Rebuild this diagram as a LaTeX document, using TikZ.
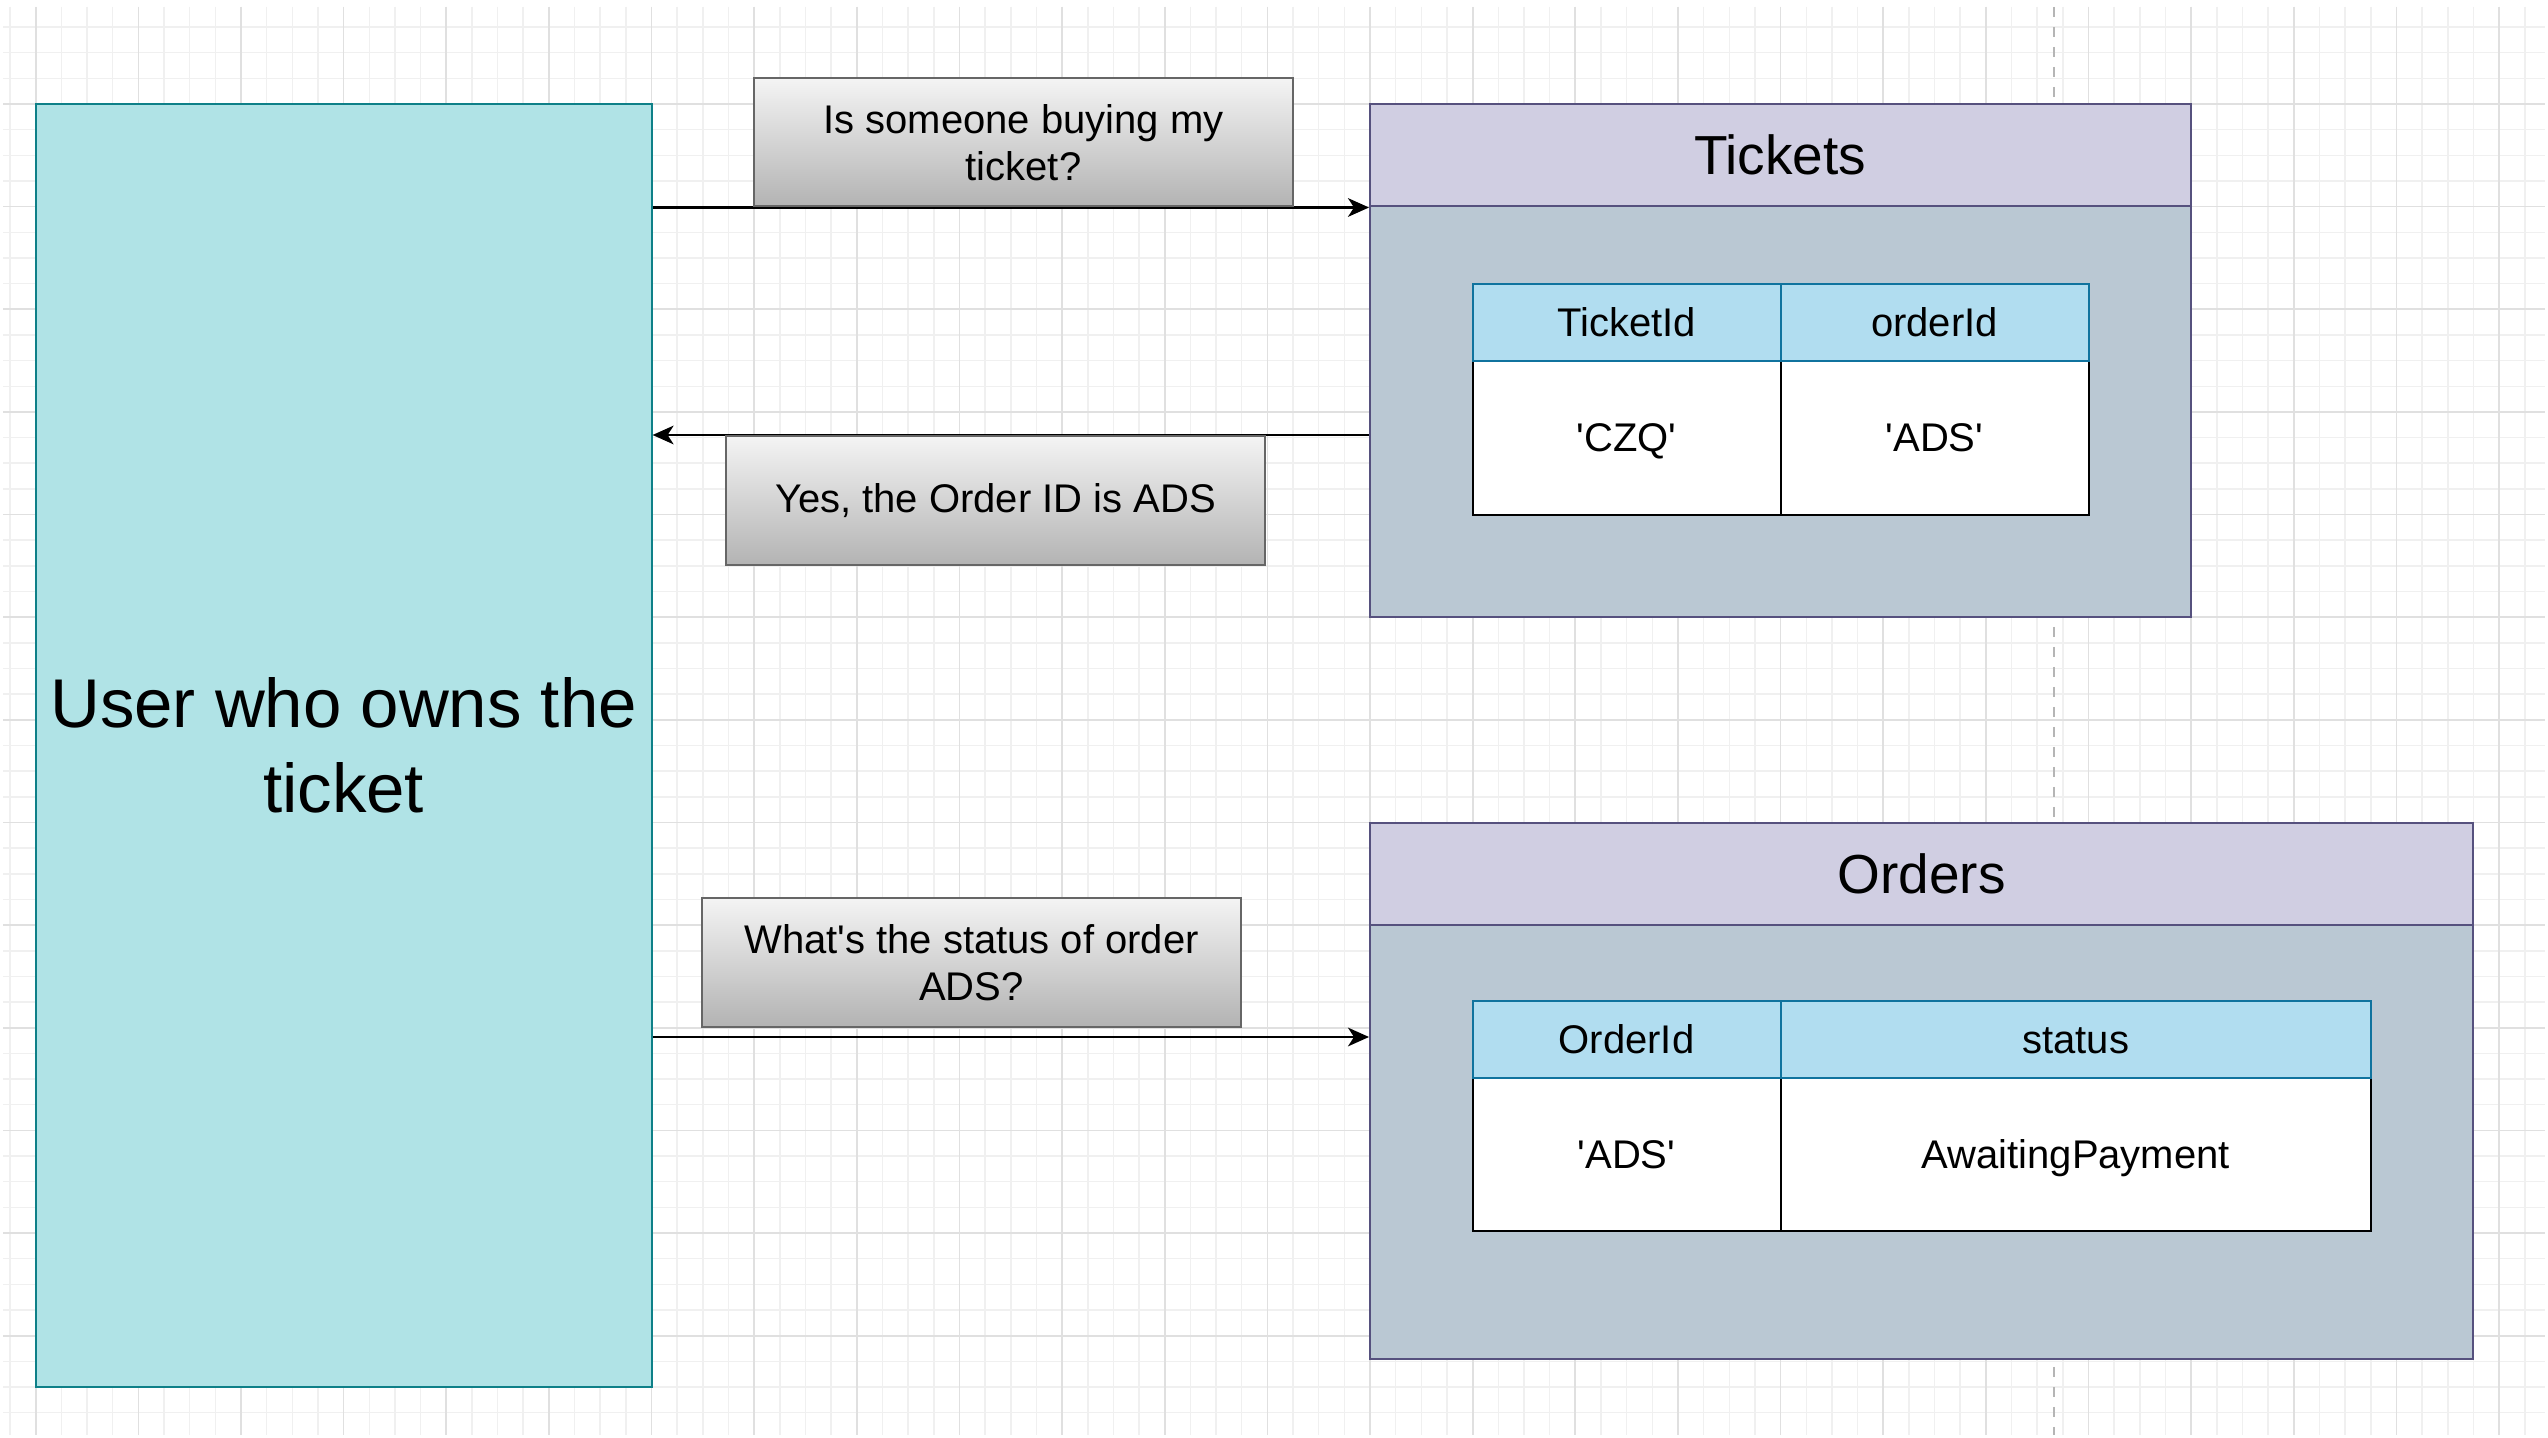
\documentclass[tikz,border=0pt]{standalone}
\usepackage{fontspec}
\setmainfont{Liberation Sans}[Ligatures=TeXOff]
\usetikzlibrary{arrows.meta}
\definecolor{gminor}{HTML}{F0F0F0}
\definecolor{gmajor}{HTML}{E0E0E0}
\definecolor{userfill}{HTML}{B0E3E6}
\definecolor{userstroke}{HTML}{0E8088}
\definecolor{qtop}{HTML}{F4F4F4}
\definecolor{qbot}{HTML}{B3B3B3}
\definecolor{qstroke}{HTML}{666666}
\definecolor{lanehead}{HTML}{D0CEE2}
\definecolor{lanebody}{HTML}{BAC8D3}
\definecolor{lanestroke}{HTML}{56517E}
\definecolor{thfill}{HTML}{B1DDF0}
\definecolor{thstroke}{HTML}{10739E}
\definecolor{dashgrey}{HTML}{B5B5B5}
\begin{document}
\begin{tikzpicture}[x=0.3pt,y=-0.3pt,
  gridminor/.style={draw=gminor, line width=0.45pt},
  gridmajor/.style={draw=gmajor, line width=0.5pt},
  userbox/.style={draw=userstroke, fill=userfill, line width=0.6pt, inner sep=0pt, align=center,
    font=\fontsize{20.7}{25.35}\selectfont},
  qbox/.style={draw=qstroke, top color=qtop, bottom color=qbot, line width=0.6pt, inner sep=0pt,
    align=center, minimum width=161.7pt, font=\fontsize{12}{14.1}\selectfont},
  lhead/.style={draw=lanestroke, fill=lanehead, line width=0.6pt, inner sep=0pt,
    font=\fontsize{16.5}{20}\selectfont, minimum height=30.75pt},
  lbody/.style={draw=lanestroke, fill=lanebody, line width=0.6pt, inner sep=0pt},
  thcell/.style={draw=thstroke, fill=thfill, line width=0.6pt, inner sep=0pt,
    font=\fontsize{12}{14}\selectfont, text height=8.6pt, text depth=0pt},
  tdcell/.style={draw=black, fill=white, line width=0.6pt, inner sep=0pt,
    font=\fontsize{12}{14}\selectfont, text height=8.6pt, text depth=0pt},
  flow/.style={draw=black, line width=0.7pt, -{Stealth[length=6.3pt,width=5.6pt,inset=1.8pt]}}
]
\useasboundingbox[fill=white] (0,0) rectangle (2548,1438);
% grid
\begin{scope}
\clip (3,7) rectangle (2545,1435);
\foreach \k in {-1,...,97} {
  \pgfmathsetmacro\xx{35.7+25.66*\k}
  \draw[gridminor] (\xx,7) -- (\xx,1435);
}
\foreach \k in {-3,...,52} {
  \pgfmathsetmacro\yy{104+25.66*\k}
  \draw[gridminor] (3,\yy) -- (2545,\yy);
}
\foreach \k in {0,4,...,96} {
  \pgfmathsetmacro\xx{35.7+25.66*\k}
  \draw[gridmajor] (\xx,7) -- (\xx,1435);
}
\foreach \k in {0,4,...,48} {
  \pgfmathsetmacro\yy{104+25.66*\k}
  \draw[gridmajor] (3,\yy) -- (2545,\yy);
}
\end{scope}
\coordinate (dtop) at (2054,7);
\coordinate (dbot) at (2054,1435);
\draw[dashgrey, line width=0.5pt, dash pattern=on 3pt off 3pt] (dtop) -- (dbot);

% user
\node[userbox, minimum width=184.77pt, minimum height=384.9pt] (user) at (343.65,745.5)
  {User who owns the\\ticket};

% Tickets lane
\node[lbody, minimum width=246.15pt, minimum height=123.15pt] (tbody) at (1780.25,411.75) {};
\node[lhead, minimum width=246.15pt] (thead) at (1780.25,155.25) {Tickets};
\node[tdcell, minimum width=92.4pt, minimum height=46.2pt] (tc1) at (1626.5,437.6) {'CZQ'};
\node[tdcell, minimum width=92.4pt, minimum height=46.2pt] (tc2) at (1934.5,437.6) {'ADS'};
\node[thcell, minimum width=92.4pt, minimum height=22.98pt] (th1) at (1626.5,322.3) {TicketId};
\node[thcell, minimum width=92.4pt, minimum height=22.98pt] (th2) at (1934.5,322.3) {orderId};

% Orders lane
\node[lbody, minimum width=330.9pt, minimum height=130.2pt] (obody) at (1921.5,1142) {};
\node[lhead, minimum width=330.9pt] (ohead) at (1921.5,873.75) {Orders};
\node[tdcell, minimum width=92.4pt, minimum height=45.9pt] (oc1) at (1626.5,1154.5) {'ADS'};
\node[tdcell, minimum width=177.15pt, minimum height=45.9pt] (oc2) at (2075.75,1154.5) {AwaitingPayment};
\node[thcell, minimum width=92.4pt, minimum height=23.1pt] (oh1) at (1626.5,1039.5) {OrderId};
\node[thcell, minimum width=177.15pt, minimum height=23.1pt] (oh2) at (2075.75,1039.5) {status};

% label boxes (positions)
\node[qbox, minimum height=38.46pt] (q1) at (1023.5,142.4) {Is someone buying my\\ticket?};
\node[qbox, minimum height=38.7pt] (ans) at (995.5,500.5) {Yes, the Order ID is ADS};
\node[qbox, minimum height=38.55pt] (q3) at (971.5,962.25) {What's the status of order\\ADS?};

% connectors
\coordinate (a3) at (0,1037);
\draw[flow] (user.east |- thead.south) -- (thead.south west);
\draw[flow] (tbody.west |- ans.north) -- (user.east |- ans.north);
\draw[flow] (user.east |- a3) -- (obody.west |- a3);

% redraw label boxes on top of connectors
\node[qbox, minimum height=38.46pt] at (q1) {Is someone buying my\\ticket?};
\node[qbox, minimum height=38.7pt] at (ans) {Yes, the Order ID is ADS};
\node[qbox, minimum height=38.55pt] at (q3) {What's the status of order\\ADS?};
\end{tikzpicture}
\end{document}
